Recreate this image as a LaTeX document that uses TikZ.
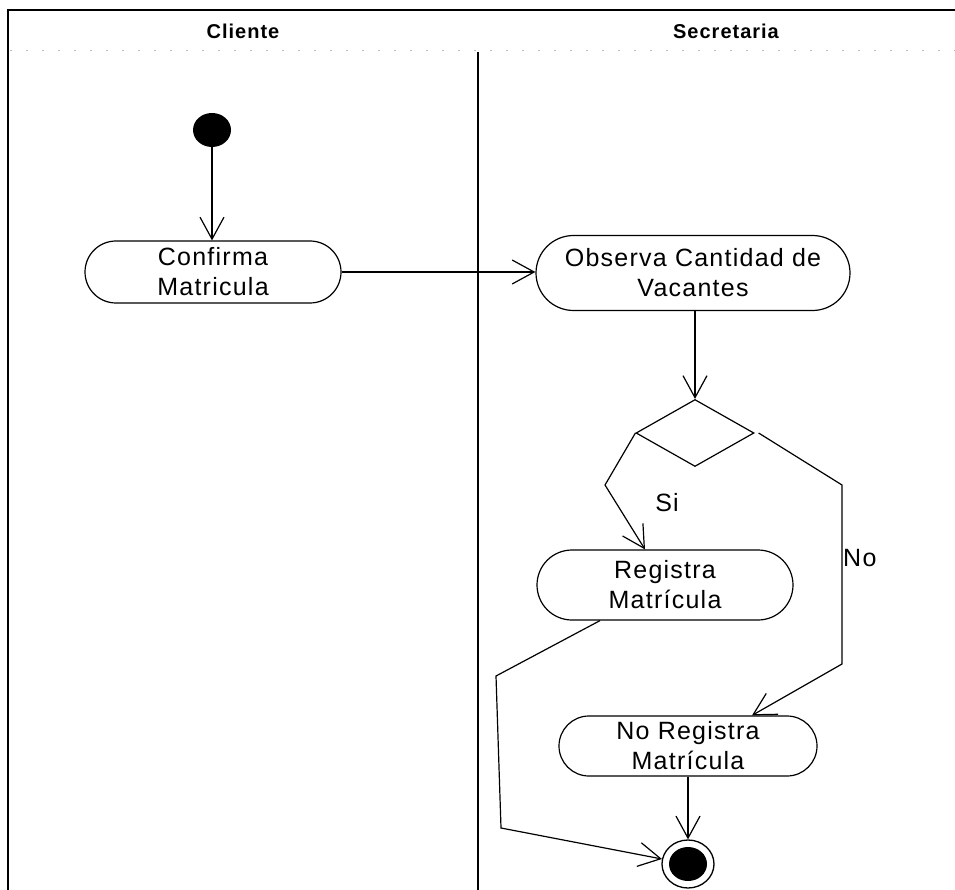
\documentclass[tikz,border=0pt]{standalone}
\usepackage{fontspec}
\setmainfont{Liberation Sans}
\newfontfamily\actfont{Liberation Sans}[LetterSpace=5]
\newfontfamily\headfont{Liberation Sans}[LetterSpace=5]
\usetikzlibrary{arrows.meta,shapes.misc,shapes.geometric}

\tikzset{
  activity/.style={rounded rectangle, draw, line width=1.2pt, inner sep=0pt,
    align=center, font=\actfont\fontsize{25}{30}\selectfont},
  lanehead/.style={font=\headfont\bfseries\fontsize{20}{24}\selectfont},
  guard/.style={font=\actfont\fontsize{25}{28}\selectfont, inner sep=0pt},
  flow/.style={line width=1.2pt, -{Straight Barb[length=22pt,width=24pt,line width=1.2pt]}},
  initial/.style={ellipse, fill=black, minimum width=38pt, minimum height=34pt, inner sep=0pt},
  finalring/.style={ellipse, draw, line width=1.3pt, minimum width=52pt, minimum height=48pt, inner sep=0pt},
  finaldot/.style={ellipse, fill=black, minimum width=38pt, minimum height=34pt, inner sep=0pt},
  decision/.style={diamond, draw, line width=1.2pt, minimum width=118pt, minimum height=67pt, inner sep=0pt},
}

\begin{document}
\begin{tikzpicture}[x=1pt,y=-1pt]
  \useasboundingbox (0,0) rectangle (955,890);

  % swimlane frame
  \draw[line width=2.2pt] (8,890) -- (8,10) -- (955,10);
  \draw[gray!55, line width=0.7pt, dash pattern=on 2pt off 14pt] (10,50) -- (955,50);
  \draw[line width=1.2pt] (478,52) -- (478,890);
  \node[lanehead] (cliente) at (243,31) {Cliente};
  \node[lanehead] (secretaria) at (726,31) {Secretaria};

  % nodes
  \node[initial] (start) at (212,130) {};
  \node[activity, minimum width=256pt, minimum height=62pt] (conf) at (213,272)
    {Confirma\\Matricula};
  \node[activity, minimum width=314pt, minimum height=75pt] (obs) at (693,273)
    {Observa Cantidad de\\Vacantes};
  \node[decision] (dec) at (695,433) {};
  \node[activity, minimum width=256pt, minimum height=70pt] (reg) at (665,585)
    {Registra\\Matrícula};
  \node[activity, minimum width=258pt, minimum height=60pt] (noreg) at (688,746)
    {No Registra\\Matrícula};
  \node[finalring] (final) at (688,864) {};
  \node[finaldot] (finaldot) at (final.center) {};

  % bend points of the connectors
  \coordinate (siA) at (605,485);
  \coordinate (noA) at (842,485);
  \coordinate (noB) at (842,664);
  \coordinate (regA) at (496,676);
  \coordinate (regB) at (501,828);

  % connectors
  \draw[flow] (start) -- (start |- conf.north);
  \draw[flow] (conf.east) -- (conf.east -| obs.west);
  \draw[flow] (obs.south -| dec.north) -- (dec.north);
  \draw[flow] (dec.west) -- (siA) -- ([xshift=-20pt]reg.north);
  \draw[flow] ([xshift=4pt]dec.east) -- (noA) -- (noB) -- ([xshift=64pt]noreg.north);
  \draw[flow] ([xshift=-65pt]reg.south) -- (regA) -- (regB) -- (final);
  \draw[flow] (noreg.south) -- (final.north);

  % guard labels
  \node[guard] (si) at (667,503) {Si};
  \node[guard, anchor=west] (no) at (843,558) {No};
\end{tikzpicture}
\end{document}
